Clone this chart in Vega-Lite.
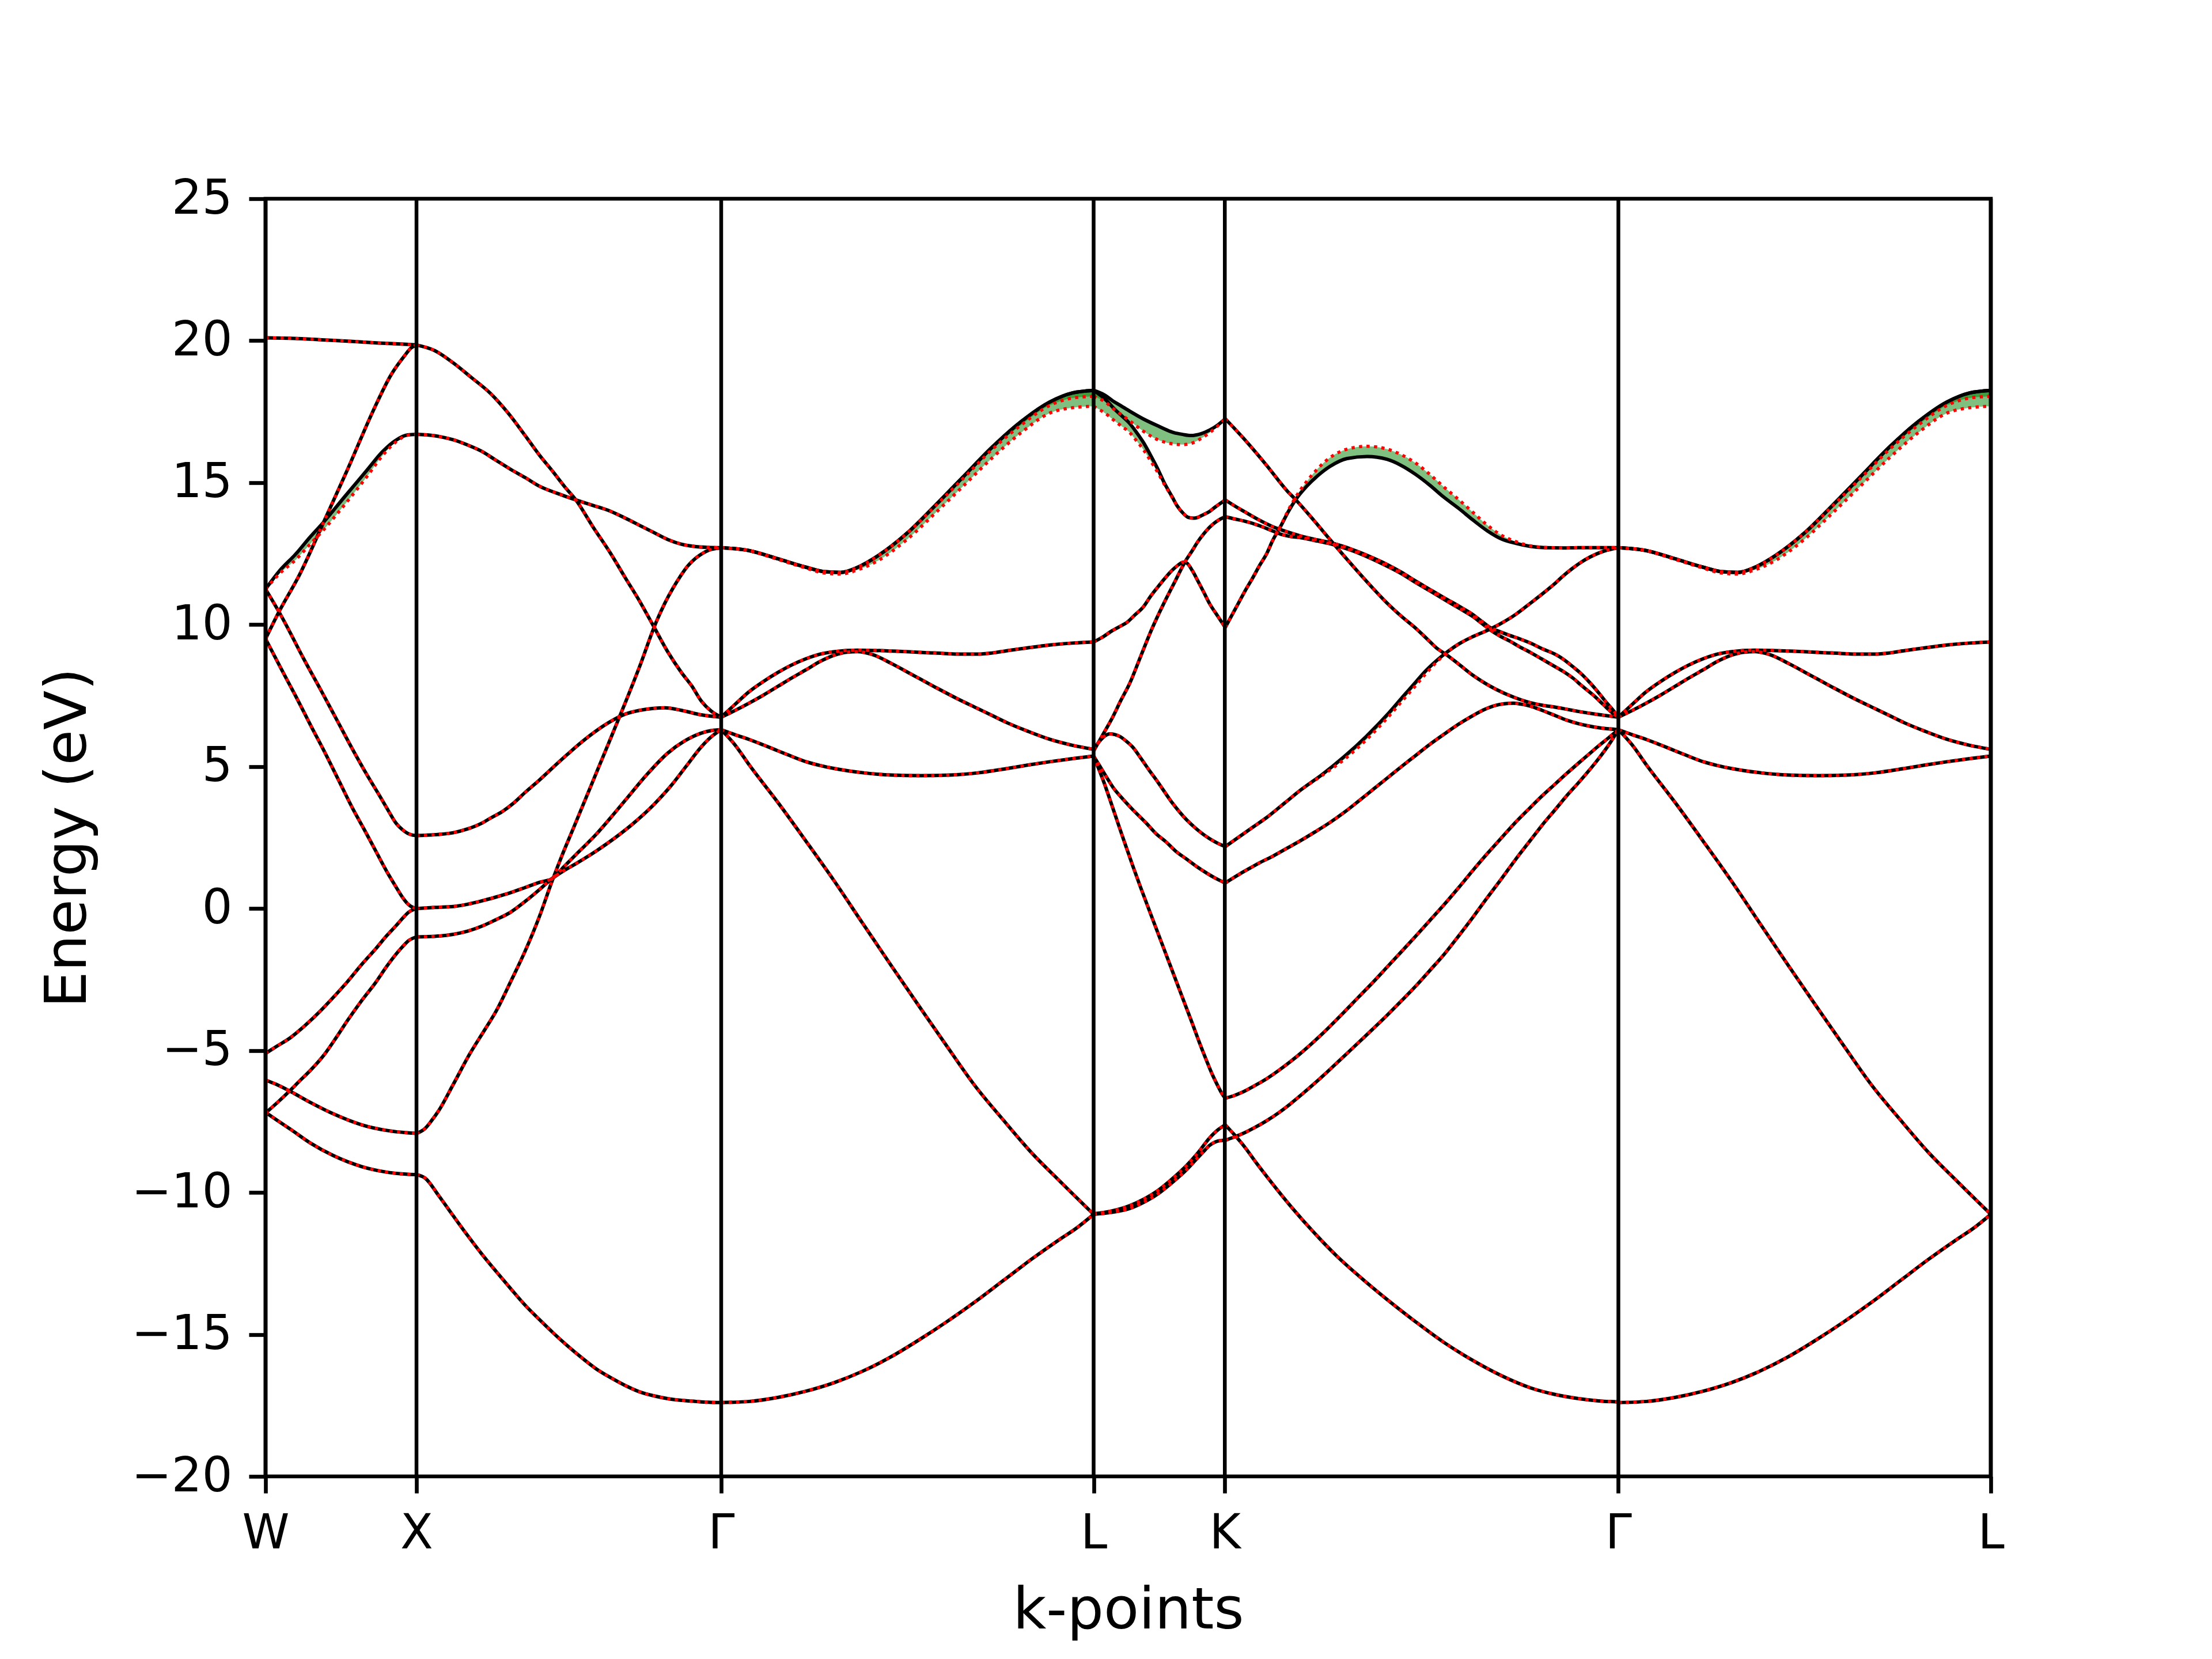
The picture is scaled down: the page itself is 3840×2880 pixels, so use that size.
{
"$schema": "https://vega.github.io/schema/vega-lite/v6.json",
"width": 2995, "height": 2218,
"autosize": {"type": "none"},
"padding": {"left": 461, "top": 345, "right": 384, "bottom": 317},
"background": "white",
"config": {
 "view": {"stroke": "black", "strokeWidth": 6.67},
 "font": "DejaVu Sans",
 "axis": {"domain": false, "grid": false, "tickColor": "black", "tickWidth": 6.67, "tickSize": 29, "labelFont": "DejaVu Sans", "labelFontSize": 83, "labelColor": "black", "labelPadding": 29, "titleFont": "DejaVu Sans", "titleFontSize": 100, "titleFontWeight": "normal", "titleColor": "black", "labelFlush": false, "labelOverlap": false, "labelBound": false},
 "axisX": {"titlePadding": 43},
 "axisY": {"titlePadding": 92}
},
"datasets": {
"kpts": [{"k":0},{"k":107},{"k":323},{"k":587},{"k":680},{"k":959},{"k":1223}],
"bands": [
{"b":"a1","k":0,"e":20.1,"f":20.1},{"b":"a1","k":20,"e":20.08,"f":20.08},{"b":"a1","k":40,"e":20.03,"f":20.03},{"b":"a1","k":60,"e":19.98,"f":19.98},{"b":"a1","k":80,"e":19.92,"f":19.92},{"b":"a1","k":100,"e":19.87,"f":19.87},{"b":"a1","k":107,"e":19.85,"f":19.85},
{"b":"a2","k":0,"e":9.5,"f":9.5},{"b":"a2","k":9.5,"e":10.45,"f":10.45},{"b":"a2","k":24,"e":11.75,"f":11.75},{"b":"a2","k":42,"e":13.7,"f":13.7},{"b":"a2","k":58,"e":15.45,"f":15.45},{"b":"a2","k":76,"e":17.5,"f":17.5},{"b":"a2","k":89,"e":18.8,"f":18.8},{"b":"a2","k":99,"e":19.5,"f":19.5},{"b":"a2","k":103,"e":19.74,"f":19.74},{"b":"a2","k":107,"e":19.85,"f":19.85},
{"b":"a3","k":0,"e":11.25,"f":11.25},{"b":"a3","k":10,"e":11.9,"f":11.8},{"b":"a3","k":21.7,"e":12.5,"f":12.3},{"b":"a3","k":31,"e":13.05,"f":12.8},{"b":"a3","k":41,"e":13.6,"f":13.33},{"b":"a3","k":56,"e":14.5,"f":14.22},{"b":"a3","k":72.4,"e":15.47,"f":15.25},{"b":"a3","k":82.5,"e":16.07,"f":15.93},{"b":"a3","k":92.6,"e":16.5,"f":16.44},{"b":"a3","k":100.7,"e":16.68,"f":16.67},{"b":"a3","k":107,"e":16.7,"f":16.7},
{"b":"a4","k":0,"e":11.25,"f":11.25},{"b":"a4","k":9.5,"e":10.45,"f":10.45},{"b":"a4","k":13.6,"e":10.08,"f":10.08},{"b":"a4","k":27,"e":8.8,"f":8.8},{"b":"a4","k":40,"e":7.62,"f":7.62},{"b":"a4","k":51,"e":6.6,"f":6.6},{"b":"a4","k":62,"e":5.58,"f":5.58},{"b":"a4","k":72,"e":4.7,"f":4.7},{"b":"a4","k":80.5,"e":4.0,"f":4.0},{"b":"a4","k":87,"e":3.45,"f":3.45},{"b":"a4","k":92.6,"e":3.0,"f":3.0},{"b":"a4","k":97,"e":2.78,"f":2.78},{"b":"a4","k":100.7,"e":2.65,"f":2.65},{"b":"a4","k":104,"e":2.59,"f":2.59},{"b":"a4","k":107,"e":2.57,"f":2.57},
{"b":"a5","k":0,"e":9.5,"f":9.5},{"b":"a5","k":11,"e":8.45,"f":8.45},{"b":"a5","k":21.7,"e":7.45,"f":7.45},{"b":"a5","k":32,"e":6.45,"f":6.45},{"b":"a5","k":42,"e":5.5,"f":5.5},{"b":"a5","k":52,"e":4.5,"f":4.5},{"b":"a5","k":62,"e":3.5,"f":3.5},{"b":"a5","k":70,"e":2.78,"f":2.78},{"b":"a5","k":78.4,"e":2.0,"f":2.0},{"b":"a5","k":86,"e":1.3,"f":1.3},{"b":"a5","k":92.6,"e":0.75,"f":0.75},{"b":"a5","k":97,"e":0.4,"f":0.4},{"b":"a5","k":100.7,"e":0.17,"f":0.17},{"b":"a5","k":104,"e":0.05,"f":0.05},{"b":"a5","k":107,"e":0.0,"f":0.0},
{"b":"a6","k":0,"e":-5.1,"f":-5.1},{"b":"a6","k":8,"e":-4.85,"f":-4.85},{"b":"a6","k":17.6,"e":-4.55,"f":-4.55},{"b":"a6","k":28,"e":-4.12,"f":-4.12},{"b":"a6","k":38,"e":-3.65,"f":-3.65},{"b":"a6","k":48,"e":-3.13,"f":-3.13},{"b":"a6","k":58,"e":-2.58,"f":-2.58},{"b":"a6","k":68,"e":-1.98,"f":-1.98},{"b":"a6","k":78.4,"e":-1.4,"f":-1.4},{"b":"a6","k":86,"e":-0.95,"f":-0.95},{"b":"a6","k":92.6,"e":-0.6,"f":-0.6},{"b":"a6","k":97,"e":-0.35,"f":-0.35},{"b":"a6","k":101.7,"e":-0.12,"f":-0.12},{"b":"a6","k":107,"e":0.0,"f":0.0},
{"b":"a7","k":0,"e":-7.2,"f":-7.2},{"b":"a7","k":8,"e":-6.85,"f":-6.85},{"b":"a7","k":17.6,"e":-6.4,"f":-6.4},{"b":"a7","k":24,"e":-6.08,"f":-6.08},{"b":"a7","k":31.8,"e":-5.7,"f":-5.7},{"b":"a7","k":42,"e":-5.12,"f":-5.12},{"b":"a7","k":50,"e":-4.55,"f":-4.55},{"b":"a7","k":58,"e":-3.95,"f":-3.95},{"b":"a7","k":68,"e":-3.25,"f":-3.25},{"b":"a7","k":78.4,"e":-2.58,"f":-2.58},{"b":"a7","k":86,"e":-2.03,"f":-2.03},{"b":"a7","k":92.6,"e":-1.6,"f":-1.6},{"b":"a7","k":97,"e":-1.35,"f":-1.35},{"b":"a7","k":101.7,"e":-1.12,"f":-1.12},{"b":"a7","k":107,"e":-1.0,"f":-1.0},
{"b":"a8","k":0,"e":-6.04,"f":-6.04},{"b":"a8","k":7.5,"e":-6.19,"f":-6.19},{"b":"a8","k":17.6,"e":-6.44,"f":-6.44},{"b":"a8","k":31.8,"e":-6.83,"f":-6.83},{"b":"a8","k":48,"e":-7.23,"f":-7.23},{"b":"a8","k":68.3,"e":-7.62,"f":-7.62},{"b":"a8","k":86.5,"e":-7.82,"f":-7.82},{"b":"a8","k":100.7,"e":-7.9,"f":-7.9},{"b":"a8","k":107,"e":-7.92,"f":-7.92},
{"b":"a9","k":0,"e":-7.18,"f":-7.18},{"b":"a9","k":8,"e":-7.45,"f":-7.45},{"b":"a9","k":17.6,"e":-7.77,"f":-7.77},{"b":"a9","k":31.8,"e":-8.26,"f":-8.26},{"b":"a9","k":48,"e":-8.7,"f":-8.7},{"b":"a9","k":68.3,"e":-9.09,"f":-9.09},{"b":"a9","k":86.5,"e":-9.29,"f":-9.29},{"b":"a9","k":100.7,"e":-9.36,"f":-9.36},{"b":"a9","k":107,"e":-9.37,"f":-9.37},
{"b":"b1","k":107,"e":19.85,"f":19.85},{"b":"b1","k":120,"e":19.65,"f":19.65},{"b":"b1","k":133,"e":19.22,"f":19.22},{"b":"b1","k":146,"e":18.7,"f":18.7},{"b":"b1","k":159.5,"e":18.14,"f":18.14},{"b":"b1","k":172,"e":17.45,"f":17.45},{"b":"b1","k":184,"e":16.66,"f":16.66},{"b":"b1","k":194,"e":15.98,"f":15.98},{"b":"b1","k":204,"e":15.37,"f":15.37},{"b":"b1","k":212,"e":14.86,"f":14.86},{"b":"b1","k":220,"e":14.39,"f":14.39},{"b":"b1","k":232,"e":13.45,"f":13.45},{"b":"b1","k":244.7,"e":12.5,"f":12.5},{"b":"b1","k":255,"e":11.65,"f":11.65},{"b":"b1","k":265,"e":10.84,"f":10.84},{"b":"b1","k":275,"e":9.95,"f":9.95},{"b":"b1","k":285,"e":9.05,"f":9.05},{"b":"b1","k":295,"e":8.3,"f":8.3},{"b":"b1","k":302,"e":7.85,"f":7.85},{"b":"b1","k":309,"e":7.3,"f":7.3},{"b":"b1","k":316,"e":6.95,"f":6.95},{"b":"b1","k":323,"e":6.74,"f":6.74},
{"b":"b2","k":107,"e":16.7,"f":16.7},{"b":"b2","k":120,"e":16.65,"f":16.65},{"b":"b2","k":133,"e":16.51,"f":16.51},{"b":"b2","k":143,"e":16.33,"f":16.33},{"b":"b2","k":153,"e":16.11,"f":16.11},{"b":"b2","k":163,"e":15.8,"f":15.8},{"b":"b2","k":173.7,"e":15.47,"f":15.47},{"b":"b2","k":184,"e":15.18,"f":15.18},{"b":"b2","k":194,"e":14.88,"f":14.88},{"b":"b2","k":207,"e":14.62,"f":14.62},{"b":"b2","k":220,"e":14.39,"f":14.39},{"b":"b2","k":232,"e":14.2,"f":14.2},{"b":"b2","k":244.7,"e":13.99,"f":13.99},{"b":"b2","k":255,"e":13.75,"f":13.75},{"b":"b2","k":265,"e":13.5,"f":13.5},{"b":"b2","k":275,"e":13.25,"f":13.25},{"b":"b2","k":285,"e":13.0,"f":13.0},{"b":"b2","k":295,"e":12.83,"f":12.83},{"b":"b2","k":303,"e":12.76,"f":12.76},{"b":"b2","k":313,"e":12.72,"f":12.72},{"b":"b2","k":323,"e":12.71,"f":12.71},
{"b":"b3","k":107,"e":-7.92,"f":-7.92},{"b":"b3","k":113,"e":-7.75,"f":-7.75},{"b":"b3","k":118,"e":-7.45,"f":-7.45},{"b":"b3","k":123,"e":-7.1,"f":-7.1},{"b":"b3","k":133,"e":-6.2,"f":-6.2},{"b":"b3","k":145,"e":-5.1,"f":-5.1},{"b":"b3","k":155,"e":-4.3,"f":-4.3},{"b":"b3","k":163.6,"e":-3.6,"f":-3.6},{"b":"b3","k":174,"e":-2.55,"f":-2.55},{"b":"b3","k":184,"e":-1.5,"f":-1.5},{"b":"b3","k":194,"e":-0.3,"f":-0.3},{"b":"b3","k":203,"e":0.95,"f":0.95},{"b":"b3","k":210,"e":1.85,"f":1.85},{"b":"b3","k":218,"e":2.8,"f":2.8},{"b":"b3","k":230.5,"e":4.3,"f":4.3},{"b":"b3","k":242.6,"e":5.75,"f":5.75},{"b":"b3","k":255,"e":7.25,"f":7.25},{"b":"b3","k":265,"e":8.5,"f":8.5},{"b":"b3","k":277,"e":10.1,"f":10.1},{"b":"b3","k":283,"e":10.75,"f":10.75},{"b":"b3","k":289,"e":11.3,"f":11.3},{"b":"b3","k":294,"e":11.7,"f":11.7},{"b":"b3","k":299,"e":12.05,"f":12.05},{"b":"b3","k":304,"e":12.3,"f":12.3},{"b":"b3","k":308,"e":12.45,"f":12.45},{"b":"b3","k":316,"e":12.65,"f":12.65},{"b":"b3","k":323,"e":12.7,"f":12.7},
{"b":"b4","k":107,"e":2.57,"f":2.57},{"b":"b4","k":120,"e":2.6,"f":2.6},{"b":"b4","k":133,"e":2.67,"f":2.67},{"b":"b4","k":143,"e":2.8,"f":2.8},{"b":"b4","k":153,"e":3.0,"f":3.0},{"b":"b4","k":160,"e":3.2,"f":3.2},{"b":"b4","k":167.6,"e":3.41,"f":3.41},{"b":"b4","k":176,"e":3.72,"f":3.72},{"b":"b4","k":184,"e":4.09,"f":4.09},{"b":"b4","k":194,"e":4.52,"f":4.52},{"b":"b4","k":204,"e":4.98,"f":4.98},{"b":"b4","k":214,"e":5.43,"f":5.43},{"b":"b4","k":224,"e":5.86,"f":5.86},{"b":"b4","k":235,"e":6.28,"f":6.28},{"b":"b4","k":245,"e":6.6,"f":6.6},{"b":"b4","k":255,"e":6.85,"f":6.85},{"b":"b4","k":265,"e":6.98,"f":6.98},{"b":"b4","k":275,"e":7.05,"f":7.05},{"b":"b4","k":283,"e":7.07,"f":7.07},{"b":"b4","k":295,"e":6.98,"f":6.98},{"b":"b4","k":309,"e":6.82,"f":6.82},{"b":"b4","k":323,"e":6.74,"f":6.74},
{"b":"b5","k":107,"e":0.0,"f":0.0},{"b":"b5","k":120,"e":0.04,"f":0.04},{"b":"b5","k":133,"e":0.07,"f":0.07},{"b":"b5","k":143,"e":0.15,"f":0.15},{"b":"b5","k":153.4,"e":0.27,"f":0.27},{"b":"b5","k":163,"e":0.4,"f":0.4},{"b":"b5","k":173.7,"e":0.56,"f":0.56},{"b":"b5","k":184,"e":0.74,"f":0.74},{"b":"b5","k":194,"e":0.92,"f":0.92},{"b":"b5","k":203,"e":1.05,"f":1.05},{"b":"b5","k":212,"e":1.5,"f":1.5},{"b":"b5","k":220,"e":1.9,"f":1.9},{"b":"b5","k":234.5,"e":2.62,"f":2.62},{"b":"b5","k":245,"e":3.22,"f":3.22},{"b":"b5","k":254.8,"e":3.8,"f":3.8},{"b":"b5","k":270,"e":4.7,"f":4.7},{"b":"b5","k":285,"e":5.47,"f":5.47},{"b":"b5","k":297,"e":5.9,"f":5.9},{"b":"b5","k":309,"e":6.18,"f":6.18},{"b":"b5","k":316,"e":6.27,"f":6.27},{"b":"b5","k":323,"e":6.3,"f":6.3},
{"b":"b6","k":107,"e":-1.0,"f":-1.0},{"b":"b6","k":120,"e":-0.98,"f":-0.98},{"b":"b6","k":133,"e":-0.91,"f":-0.91},{"b":"b6","k":143,"e":-0.8,"f":-0.8},{"b":"b6","k":153.4,"e":-0.62,"f":-0.62},{"b":"b6","k":163,"e":-0.4,"f":-0.4},{"b":"b6","k":173.7,"e":-0.13,"f":-0.13},{"b":"b6","k":184,"e":0.25,"f":0.25},{"b":"b6","k":194,"e":0.66,"f":0.66},{"b":"b6","k":203,"e":1.05,"f":1.05},{"b":"b6","k":212,"e":1.35,"f":1.35},{"b":"b6","k":220,"e":1.58,"f":1.58},{"b":"b6","k":234.5,"e":2.03,"f":2.03},{"b":"b6","k":248,"e":2.5,"f":2.5},{"b":"b6","k":261,"e":3.01,"f":3.01},{"b":"b6","k":275,"e":3.65,"f":3.65},{"b":"b6","k":287,"e":4.3,"f":4.3},{"b":"b6","k":298,"e":5.0,"f":5.0},{"b":"b6","k":309,"e":5.7,"f":5.7},{"b":"b6","k":316,"e":6.05,"f":6.05},{"b":"b6","k":323,"e":6.3,"f":6.3},
{"b":"b7","k":107,"e":-9.37,"f":-9.37},{"b":"b7","k":113,"e":-9.49,"f":-9.49},{"b":"b7","k":123,"e":-10.13,"f":-10.13},{"b":"b7","k":133,"e":-10.82,"f":-10.82},{"b":"b7","k":143,"e":-11.5,"f":-11.5},{"b":"b7","k":153,"e":-12.15,"f":-12.15},{"b":"b7","k":163.6,"e":-12.79,"f":-12.79},{"b":"b7","k":174,"e":-13.4,"f":-13.4},{"b":"b7","k":184,"e":-13.97,"f":-13.97},{"b":"b7","k":194,"e":-14.47,"f":-14.47},{"b":"b7","k":204,"e":-14.95,"f":-14.95},{"b":"b7","k":214,"e":-15.4,"f":-15.4},{"b":"b7","k":224.6,"e":-15.84,"f":-15.84},{"b":"b7","k":234,"e":-16.2,"f":-16.2},{"b":"b7","k":244.9,"e":-16.53,"f":-16.53},{"b":"b7","k":255,"e":-16.8,"f":-16.8},{"b":"b7","k":265,"e":-17.02,"f":-17.02},{"b":"b7","k":275,"e":-17.16,"f":-17.16},{"b":"b7","k":285,"e":-17.26,"f":-17.26},{"b":"b7","k":295,"e":-17.32,"f":-17.32},{"b":"b7","k":305,"e":-17.36,"f":-17.36},{"b":"b7","k":314,"e":-17.39,"f":-17.39},{"b":"b7","k":323,"e":-17.4,"f":-17.4},
{"b":"c1","k":323,"e":12.71,"f":12.71},{"b":"c1","k":342.6,"e":12.61,"f":12.61},{"b":"c1","k":363,"e":12.32,"f":12.32},{"b":"c1","k":383.2,"e":12.02,"f":12.02},{"b":"c1","k":395.4,"e":11.87,"f":11.87},{"b":"c1","k":407.6,"e":11.84,"f":11.84},{"b":"c1","k":419.8,"e":12.02,"f":12.02},{"b":"c1","k":434,"e":12.42,"f":12.42},{"b":"c1","k":454.3,"e":13.2,"f":13.2},{"b":"c1","k":474.6,"e":14.19,"f":14.17},{"b":"c1","k":495,"e":15.23,"f":15.17},{"b":"c1","k":515.3,"e":16.26,"f":16.18},{"b":"c1","k":535.6,"e":17.15,"f":17.03},{"b":"c1","k":555.9,"e":17.84,"f":17.72},{"b":"c1","k":572,"e":18.16,"f":17.98},{"b":"c1","k":587,"e":18.25,"f":18.04},
{"b":"c2","k":323,"e":12.71,"f":12.71},{"b":"c2","k":342.6,"e":12.61,"f":12.6},{"b":"c2","k":363,"e":12.32,"f":12.3},{"b":"c2","k":383.2,"e":12.02,"f":11.99},{"b":"c2","k":395.4,"e":11.87,"f":11.82},{"b":"c2","k":407.6,"e":11.84,"f":11.78},{"b":"c2","k":419.8,"e":12.02,"f":11.93},{"b":"c2","k":434,"e":12.42,"f":12.25},{"b":"c2","k":454.3,"e":13.2,"f":12.98},{"b":"c2","k":474.6,"e":14.19,"f":13.92},{"b":"c2","k":495,"e":15.23,"f":14.9},{"b":"c2","k":515.3,"e":16.26,"f":15.88},{"b":"c2","k":535.6,"e":17.15,"f":16.76},{"b":"c2","k":555.9,"e":17.84,"f":17.45},{"b":"c2","k":572,"e":18.16,"f":17.64},{"b":"c2","k":587,"e":18.25,"f":17.69},
{"b":"c3","k":323,"e":6.74,"f":6.74},{"b":"c3","k":333,"e":7.2,"f":7.2},{"b":"c3","k":342.6,"e":7.63,"f":7.63},{"b":"c3","k":353,"e":8.0,"f":8.0},{"b":"c3","k":363,"e":8.31,"f":8.31},{"b":"c3","k":373,"e":8.58,"f":8.58},{"b":"c3","k":383.2,"e":8.8,"f":8.8},{"b":"c3","k":393,"e":8.96,"f":8.96},{"b":"c3","k":403.5,"e":9.05,"f":9.05},{"b":"c3","k":419.7,"e":9.1,"f":9.1},{"b":"c3","k":444.1,"e":9.07,"f":9.07},{"b":"c3","k":474.6,"e":9.0,"f":9.0},{"b":"c3","k":495,"e":8.96,"f":8.96},{"b":"c3","k":505,"e":8.96,"f":8.96},{"b":"c3","k":515,"e":9.0,"f":9.0},{"b":"c3","k":525.4,"e":9.08,"f":9.08},{"b":"c3","k":540,"e":9.18,"f":9.18},{"b":"c3","k":555.9,"e":9.28,"f":9.28},{"b":"c3","k":572,"e":9.35,"f":9.35},{"b":"c3","k":587,"e":9.39,"f":9.39},
{"b":"c4","k":323,"e":6.74,"f":6.74},{"b":"c4","k":333,"e":6.98,"f":6.98},{"b":"c4","k":342.6,"e":7.23,"f":7.23},{"b":"c4","k":353,"e":7.52,"f":7.52},{"b":"c4","k":363,"e":7.82,"f":7.82},{"b":"c4","k":373,"e":8.12,"f":8.12},{"b":"c4","k":383.2,"e":8.41,"f":8.41},{"b":"c4","k":393,"e":8.7,"f":8.7},{"b":"c4","k":403.5,"e":8.93,"f":8.93},{"b":"c4","k":412,"e":9.03,"f":9.03},{"b":"c4","k":419.7,"e":9.05,"f":9.05},{"b":"c4","k":430,"e":8.95,"f":8.95},{"b":"c4","k":444.1,"e":8.62,"f":8.62},{"b":"c4","k":459,"e":8.22,"f":8.22},{"b":"c4","k":474.6,"e":7.8,"f":7.8},{"b":"c4","k":490,"e":7.4,"f":7.4},{"b":"c4","k":505,"e":7.04,"f":7.04},{"b":"c4","k":515,"e":6.8,"f":6.8},{"b":"c4","k":525.4,"e":6.55,"f":6.55},{"b":"c4","k":540,"e":6.25,"f":6.25},{"b":"c4","k":555.9,"e":5.96,"f":5.96},{"b":"c4","k":572,"e":5.75,"f":5.75},{"b":"c4","k":587,"e":5.61,"f":5.61},
{"b":"c5","k":323,"e":6.3,"f":6.3},{"b":"c5","k":333,"e":6.12,"f":6.12},{"b":"c5","k":342.6,"e":5.96,"f":5.96},{"b":"c5","k":353,"e":5.76,"f":5.76},{"b":"c5","k":363,"e":5.56,"f":5.56},{"b":"c5","k":373,"e":5.36,"f":5.36},{"b":"c5","k":383.2,"e":5.17,"f":5.17},{"b":"c5","k":393,"e":5.04,"f":5.04},{"b":"c5","k":403.5,"e":4.93,"f":4.93},{"b":"c5","k":424,"e":4.78,"f":4.78},{"b":"c5","k":444,"e":4.7,"f":4.7},{"b":"c5","k":464.5,"e":4.68,"f":4.68},{"b":"c5","k":485,"e":4.7,"f":4.7},{"b":"c5","k":505,"e":4.78,"f":4.78},{"b":"c5","k":525.4,"e":4.93,"f":4.93},{"b":"c5","k":540,"e":5.05,"f":5.05},{"b":"c5","k":555.9,"e":5.17,"f":5.17},{"b":"c5","k":572,"e":5.28,"f":5.28},{"b":"c5","k":587,"e":5.37,"f":5.37},
{"b":"c6","k":323,"e":6.3,"f":6.3},{"b":"c6","k":333,"e":5.75,"f":5.75},{"b":"c6","k":343,"e":5.05,"f":5.05},{"b":"c6","k":363,"e":3.75,"f":3.75},{"b":"c6","k":383,"e":2.38,"f":2.38},{"b":"c6","k":403,"e":0.98,"f":0.98},{"b":"c6","k":423,"e":-0.5,"f":-0.5},{"b":"c6","k":443,"e":-1.97,"f":-1.97},{"b":"c6","k":463,"e":-3.42,"f":-3.42},{"b":"c6","k":483,"e":-4.85,"f":-4.85},{"b":"c6","k":503,"e":-6.25,"f":-6.25},{"b":"c6","k":523,"e":-7.45,"f":-7.45},{"b":"c6","k":543,"e":-8.6,"f":-8.6},{"b":"c6","k":563,"e":-9.6,"f":-9.6},{"b":"c6","k":587,"e":-10.77,"f":-10.77},
{"b":"c7","k":323,"e":-17.4,"f":-17.4},{"b":"c7","k":343,"e":-17.36,"f":-17.36},{"b":"c7","k":363,"e":-17.22,"f":-17.22},{"b":"c7","k":383,"e":-17.0,"f":-17.0},{"b":"c7","k":403,"e":-16.7,"f":-16.7},{"b":"c7","k":423,"e":-16.3,"f":-16.3},{"b":"c7","k":443,"e":-15.8,"f":-15.8},{"b":"c7","k":463,"e":-15.2,"f":-15.2},{"b":"c7","k":483,"e":-14.55,"f":-14.55},{"b":"c7","k":503,"e":-13.85,"f":-13.85},{"b":"c7","k":523,"e":-13.1,"f":-13.1},{"b":"c7","k":543,"e":-12.35,"f":-12.35},{"b":"c7","k":563,"e":-11.65,"f":-11.65},{"b":"c7","k":575,"e":-11.25,"f":-11.25},{"b":"c7","k":587,"e":-10.77,"f":-10.77},
{"b":"d1","k":587,"e":18.25,"f":18.04},{"b":"d1","k":595,"e":18.08,"f":17.85},{"b":"d1","k":600.6,"e":17.88,"f":17.62},{"b":"d1","k":606,"e":17.72,"f":17.42},{"b":"d1","k":612.5,"e":17.52,"f":17.18},{"b":"d1","k":622,"e":17.25,"f":16.82},{"b":"d1","k":632.6,"e":17.0,"f":16.51},{"b":"d1","k":644,"e":16.76,"f":16.36},{"b":"d1","k":650,"e":16.7,"f":16.34},{"b":"d1","k":656,"e":16.66,"f":16.38},{"b":"d1","k":663,"e":16.72,"f":16.55},{"b":"d1","k":669.2,"e":16.85,"f":16.76},{"b":"d1","k":675,"e":17.03,"f":17.0},{"b":"d1","k":680.3,"e":17.25,"f":17.25},
{"b":"d2","k":587,"e":18.25,"f":17.69},{"b":"d2","k":595,"e":17.95,"f":17.45},{"b":"d2","k":602.6,"e":17.55,"f":17.15},{"b":"d2","k":607,"e":17.35,"f":16.98},{"b":"d2","k":612.3,"e":17.1,"f":16.78},{"b":"d2","k":617,"e":16.8,"f":16.5},{"b":"d2","k":622.5,"e":16.4,"f":16.15},{"b":"d2","k":627,"e":16.0,"f":15.8},{"b":"d2","k":632.6,"e":15.47,"f":15.35},{"b":"d2","k":637,"e":15.0,"f":14.95},{"b":"d2","k":642.8,"e":14.49,"f":14.47},{"b":"d2","k":646,"e":14.2,"f":14.2},{"b":"d2","k":650.9,"e":13.9,"f":13.9},{"b":"d2","k":654,"e":13.78,"f":13.78},{"b":"d2","k":658,"e":13.75,"f":13.75},{"b":"d2","k":661,"e":13.78,"f":13.78},{"b":"d2","k":665.1,"e":13.88,"f":13.88},{"b":"d2","k":669,"e":13.98,"f":13.98},{"b":"d2","k":673.2,"e":14.14,"f":14.14},{"b":"d2","k":680.3,"e":14.39,"f":14.39},
{"b":"d3","k":587,"e":9.39,"f":9.39},{"b":"d3","k":593,"e":9.55,"f":9.55},{"b":"d3","k":600,"e":9.78,"f":9.78},{"b":"d3","k":605,"e":9.92,"f":9.92},{"b":"d3","k":610.7,"e":10.08,"f":10.08},{"b":"d3","k":616,"e":10.33,"f":10.33},{"b":"d3","k":622.5,"e":10.64,"f":10.64},{"b":"d3","k":627,"e":10.97,"f":10.97},{"b":"d3","k":632.6,"e":11.33,"f":11.33},{"b":"d3","k":637,"e":11.6,"f":11.6},{"b":"d3","k":642.8,"e":11.92,"f":11.92},{"b":"d3","k":647,"e":12.1,"f":12.1},{"b":"d3","k":650.5,"e":12.2,"f":12.2},{"b":"d3","k":653,"e":12.17,"f":12.17},{"b":"d3","k":657,"e":11.9,"f":11.9},{"b":"d3","k":661,"e":11.53,"f":11.53},{"b":"d3","k":665,"e":11.15,"f":11.15},{"b":"d3","k":669.2,"e":10.74,"f":10.74},{"b":"d3","k":675,"e":10.3,"f":10.3},{"b":"d3","k":680.3,"e":9.9,"f":9.9},
{"b":"d4","k":587,"e":5.55,"f":5.55},{"b":"d4","k":591,"e":5.9,"f":5.9},{"b":"d4","k":595,"e":6.25,"f":6.25},{"b":"d4","k":600.6,"e":6.75,"f":6.75},{"b":"d4","k":606,"e":7.3,"f":7.3},{"b":"d4","k":612.5,"e":7.92,"f":7.92},{"b":"d4","k":620.5,"e":8.9,"f":8.9},{"b":"d4","k":628.5,"e":9.87,"f":9.87},{"b":"d4","k":636.7,"e":10.74,"f":10.74},{"b":"d4","k":644.8,"e":11.53,"f":11.53},{"b":"d4","k":651.9,"e":12.22,"f":12.22},{"b":"d4","k":657,"e":12.61,"f":12.61},{"b":"d4","k":661,"e":12.93,"f":12.93},{"b":"d4","k":665.1,"e":13.2,"f":13.2},{"b":"d4","k":669,"e":13.42,"f":13.42},{"b":"d4","k":673.2,"e":13.6,"f":13.6},{"b":"d4","k":677,"e":13.72,"f":13.72},{"b":"d4","k":680.3,"e":13.8,"f":13.8},
{"b":"d5","k":587,"e":5.61,"f":5.61},{"b":"d5","k":591,"e":5.88,"f":5.88},{"b":"d5","k":595,"e":6.08,"f":6.08},{"b":"d5","k":598.5,"e":6.15,"f":6.15},{"b":"d5","k":602,"e":6.13,"f":6.13},{"b":"d5","k":606,"e":6.05,"f":6.05},{"b":"d5","k":610,"e":5.9,"f":5.9},{"b":"d5","k":614.8,"e":5.68,"f":5.68},{"b":"d5","k":620.4,"e":5.3,"f":5.3},{"b":"d5","k":626,"e":4.9,"f":4.9},{"b":"d5","k":632.6,"e":4.45,"f":4.45},{"b":"d5","k":642.8,"e":3.72,"f":3.72},{"b":"d5","k":653,"e":3.12,"f":3.12},{"b":"d5","k":660,"e":2.8,"f":2.8},{"b":"d5","k":665.1,"e":2.6,"f":2.6},{"b":"d5","k":673,"e":2.35,"f":2.35},{"b":"d5","k":680.3,"e":2.18,"f":2.18},
{"b":"d6","k":587,"e":5.37,"f":5.37},{"b":"d6","k":591,"e":5.05,"f":5.05},{"b":"d6","k":596.5,"e":4.6,"f":4.6},{"b":"d6","k":601,"e":4.25,"f":4.25},{"b":"d6","k":606.6,"e":3.92,"f":3.92},{"b":"d6","k":614,"e":3.52,"f":3.52},{"b":"d6","k":624.5,"e":3.0,"f":3.0},{"b":"d6","k":631,"e":2.65,"f":2.65},{"b":"d6","k":638.7,"e":2.33,"f":2.33},{"b":"d6","k":645,"e":2.03,"f":2.03},{"b":"d6","k":652.9,"e":1.74,"f":1.74},{"b":"d6","k":660,"e":1.48,"f":1.48},{"b":"d6","k":667.1,"e":1.25,"f":1.25},{"b":"d6","k":674,"e":1.05,"f":1.05},{"b":"d6","k":680.3,"e":0.9,"f":0.9},
{"b":"d7","k":587,"e":5.37,"f":5.37},{"b":"d7","k":590,"e":5.0,"f":5.0},{"b":"d7","k":594.5,"e":4.42,"f":4.42},{"b":"d7","k":598.5,"e":3.85,"f":3.85},{"b":"d7","k":602.6,"e":3.25,"f":3.25},{"b":"d7","k":606.5,"e":2.68,"f":2.68},{"b":"d7","k":610.7,"e":2.08,"f":2.08},{"b":"d7","k":615,"e":1.47,"f":1.47},{"b":"d7","k":620.5,"e":0.72,"f":0.72},{"b":"d7","k":628.5,"e":-0.33,"f":-0.33},{"b":"d7","k":636.7,"e":-1.4,"f":-1.4},{"b":"d7","k":646.8,"e":-2.72,"f":-2.72},{"b":"d7","k":652,"e":-3.4,"f":-3.4},{"b":"d7","k":657,"e":-4.05,"f":-4.05},{"b":"d7","k":662,"e":-4.72,"f":-4.72},{"b":"d7","k":667,"e":-5.35,"f":-5.35},{"b":"d7","k":671,"e":-5.83,"f":-5.83},{"b":"d7","k":675,"e":-6.24,"f":-6.24},{"b":"d7","k":678,"e":-6.52,"f":-6.52},{"b":"d7","k":680.3,"e":-6.68,"f":-6.68},
{"b":"d8","k":587,"e":-10.75,"f":-10.75},{"b":"d8","k":600,"e":-10.65,"f":-10.65},{"b":"d8","k":612.3,"e":-10.47,"f":-10.47},{"b":"d8","k":622,"e":-10.25,"f":-10.25},{"b":"d8","k":632.6,"e":-9.93,"f":-9.93},{"b":"d8","k":642,"e":-9.55,"f":-9.55},{"b":"d8","k":652.9,"e":-9.05,"f":-9.05},{"b":"d8","k":661,"e":-8.6,"f":-8.6},{"b":"d8","k":669.2,"e":-8.08,"f":-8.08},{"b":"d8","k":675,"e":-7.8,"f":-7.8},{"b":"d8","k":680.3,"e":-7.62,"f":-7.62},
{"b":"d9","k":587,"e":-10.77,"f":-10.77},{"b":"d9","k":600,"e":-10.7,"f":-10.7},{"b":"d9","k":612.3,"e":-10.57,"f":-10.57},{"b":"d9","k":622,"e":-10.36,"f":-10.36},{"b":"d9","k":632.6,"e":-10.05,"f":-10.05},{"b":"d9","k":642,"e":-9.68,"f":-9.68},{"b":"d9","k":652.9,"e":-9.2,"f":-9.2},{"b":"d9","k":660,"e":-8.82,"f":-8.82},{"b":"d9","k":665.1,"e":-8.55,"f":-8.55},{"b":"d9","k":669,"e":-8.35,"f":-8.35},{"b":"d9","k":673.2,"e":-8.22,"f":-8.22},{"b":"d9","k":677,"e":-8.17,"f":-8.17},{"b":"d9","k":680.3,"e":-8.16,"f":-8.16},
{"b":"e1","k":680.3,"e":17.25,"f":17.25},{"b":"e1","k":693.5,"e":16.55,"f":16.55},{"b":"e1","k":709.8,"e":15.6,"f":15.6},{"b":"e1","k":724,"e":14.72,"f":14.72},{"b":"e1","k":731,"e":14.36,"f":14.36},{"b":"e1","k":744,"e":13.62,"f":13.62},{"b":"e1","k":754.5,"e":13.0,"f":13.0},{"b":"e1","k":764.5,"e":12.42,"f":12.42},{"b":"e1","k":774.8,"e":11.84,"f":11.84},{"b":"e1","k":785,"e":11.28,"f":11.28},{"b":"e1","k":795,"e":10.76,"f":10.76},{"b":"e1","k":805,"e":10.3,"f":10.3},{"b":"e1","k":815.4,"e":9.87,"f":9.87},{"b":"e1","k":823.5,"e":9.49,"f":9.49},{"b":"e1","k":830,"e":9.18,"f":9.18},{"b":"e1","k":837.7,"e":8.92,"f":8.92},{"b":"e1","k":846,"e":8.6,"f":8.6},{"b":"e1","k":856,"e":8.21,"f":8.21},{"b":"e1","k":864,"e":7.95,"f":7.95},{"b":"e1","k":872.3,"e":7.72,"f":7.72},{"b":"e1","k":884.5,"e":7.45,"f":7.45},{"b":"e1","k":896.6,"e":7.25,"f":7.25},{"b":"e1","k":905,"e":7.16,"f":7.16},{"b":"e1","k":914.5,"e":7.09,"f":7.09},{"b":"e1","k":930.8,"e":6.94,"f":6.94},{"b":"e1","k":945,"e":6.83,"f":6.83},{"b":"e1","k":959,"e":6.74,"f":6.74},
{"b":"e2","k":680.3,"e":14.39,"f":14.39},{"b":"e2","k":687,"e":14.18,"f":14.18},{"b":"e2","k":693.5,"e":13.99,"f":13.99},{"b":"e2","k":703.7,"e":13.7,"f":13.7},{"b":"e2","k":713.9,"e":13.45,"f":13.45},{"b":"e2","k":724,"e":13.27,"f":13.27},{"b":"e2","k":734,"e":13.12,"f":13.12},{"b":"e2","k":744,"e":13.0,"f":13.0},{"b":"e2","k":754.5,"e":12.89,"f":12.89},{"b":"e2","k":764.5,"e":12.75,"f":12.75},{"b":"e2","k":774.8,"e":12.56,"f":12.56},{"b":"e2","k":785,"e":12.35,"f":12.35},{"b":"e2","k":795,"e":12.12,"f":12.12},{"b":"e2","k":805,"e":11.85,"f":11.85},{"b":"e2","k":815.4,"e":11.53,"f":11.53},{"b":"e2","k":825,"e":11.25,"f":11.25},{"b":"e2","k":835.7,"e":10.94,"f":10.94},{"b":"e2","k":846,"e":10.65,"f":10.65},{"b":"e2","k":856,"e":10.35,"f":10.35},{"b":"e2","k":862,"e":10.12,"f":10.12},{"b":"e2","k":868,"e":9.9,"f":9.9},{"b":"e2","k":875,"e":9.75,"f":9.75},{"b":"e2","k":882,"e":9.62,"f":9.62},{"b":"e2","k":889,"e":9.5,"f":9.5},{"b":"e2","k":896.6,"e":9.35,"f":9.35},{"b":"e2","k":905,"e":9.15,"f":9.15},{"b":"e2","k":914.5,"e":8.95,"f":8.95},{"b":"e2","k":920,"e":8.78,"f":8.78},{"b":"e2","k":926.7,"e":8.52,"f":8.52},{"b":"e2","k":932,"e":8.3,"f":8.3},{"b":"e2","k":938.9,"e":7.95,"f":7.95},{"b":"e2","k":945,"e":7.6,"f":7.6},{"b":"e2","k":951,"e":7.23,"f":7.23},{"b":"e2","k":955,"e":7.0,"f":7.0},{"b":"e2","k":959,"e":6.74,"f":6.74},
{"b":"e3","k":680.3,"e":13.8,"f":13.8},{"b":"e3","k":687,"e":13.72,"f":13.72},{"b":"e3","k":693.5,"e":13.65,"f":13.65},{"b":"e3","k":703.7,"e":13.5,"f":13.5},{"b":"e3","k":713.9,"e":13.3,"f":13.3},{"b":"e3","k":720,"e":13.18,"f":13.18},{"b":"e3","k":727,"e":13.1,"f":13.1},{"b":"e3","k":734,"e":13.06,"f":13.06},{"b":"e3","k":744,"e":12.96,"f":12.96},{"b":"e3","k":754.5,"e":12.85,"f":12.85},{"b":"e3","k":764.5,"e":12.7,"f":12.7},{"b":"e3","k":774.8,"e":12.52,"f":12.52},{"b":"e3","k":785,"e":12.3,"f":12.3},{"b":"e3","k":795,"e":12.06,"f":12.06},{"b":"e3","k":805,"e":11.8,"f":11.8},{"b":"e3","k":815.4,"e":11.48,"f":11.48},{"b":"e3","k":825,"e":11.2,"f":11.2},{"b":"e3","k":835.7,"e":10.88,"f":10.88},{"b":"e3","k":846,"e":10.58,"f":10.58},{"b":"e3","k":856,"e":10.28,"f":10.28},{"b":"e3","k":862,"e":10.05,"f":10.05},{"b":"e3","k":868,"e":9.82,"f":9.82},{"b":"e3","k":875,"e":9.6,"f":9.6},{"b":"e3","k":882,"e":9.42,"f":9.42},{"b":"e3","k":889,"e":9.22,"f":9.22},{"b":"e3","k":896.6,"e":9.02,"f":9.02},{"b":"e3","k":905,"e":8.78,"f":8.78},{"b":"e3","k":914.5,"e":8.51,"f":8.51},{"b":"e3","k":920,"e":8.35,"f":8.35},{"b":"e3","k":926.7,"e":8.12,"f":8.12},{"b":"e3","k":933,"e":7.85,"f":7.85},{"b":"e3","k":940.9,"e":7.53,"f":7.53},{"b":"e3","k":948,"e":7.2,"f":7.2},{"b":"e3","k":955,"e":6.88,"f":6.88},{"b":"e3","k":959,"e":6.74,"f":6.74},
{"b":"e4","k":680.3,"e":9.9,"f":9.9},{"b":"e4","k":685,"e":10.33,"f":10.33},{"b":"e4","k":689.5,"e":10.74,"f":10.74},{"b":"e4","k":694.5,"e":11.2,"f":11.2},{"b":"e4","k":699.6,"e":11.63,"f":11.63},{"b":"e4","k":704.5,"e":12.07,"f":12.07},{"b":"e4","k":709.8,"e":12.51,"f":12.51},{"b":"e4","k":713.9,"e":12.96,"f":12.96},{"b":"e4","k":720,"e":13.5,"f":13.52},{"b":"e4","k":725,"e":13.98,"f":14.03},{"b":"e4","k":730.1,"e":14.39,"f":14.48},{"b":"e4","k":738.2,"e":14.88,"f":15.05},{"b":"e4","k":746,"e":15.25,"f":15.5},{"b":"e4","k":754.5,"e":15.57,"f":15.88},{"b":"e4","k":766.7,"e":15.85,"f":16.18},{"b":"e4","k":780.9,"e":15.92,"f":16.28},{"b":"e4","k":795.1,"e":15.82,"f":16.18},{"b":"e4","k":805.3,"e":15.6,"f":15.98},{"b":"e4","k":815,"e":15.3,"f":15.7},{"b":"e4","k":825.6,"e":14.9,"f":15.28},{"b":"e4","k":835,"e":14.5,"f":14.86},{"b":"e4","k":845.9,"e":14.09,"f":14.4},{"b":"e4","k":856,"e":13.68,"f":13.95},{"b":"e4","k":866.2,"e":13.3,"f":13.5},{"b":"e4","k":876,"e":13.02,"f":13.15},{"b":"e4","k":886.5,"e":12.86,"f":12.92},{"b":"e4","k":896,"e":12.76,"f":12.78},{"b":"e4","k":906.8,"e":12.71,"f":12.72},{"b":"e4","k":920,"e":12.7,"f":12.7},{"b":"e4","k":930.8,"e":12.71,"f":12.71},{"b":"e4","k":945,"e":12.71,"f":12.71},{"b":"e4","k":959,"e":12.71,"f":12.71},
{"b":"e5","k":680.3,"e":2.18,"f":2.18},{"b":"e5","k":690,"e":2.52,"f":2.52},{"b":"e5","k":700,"e":2.87,"f":2.87},{"b":"e5","k":709.8,"e":3.21,"f":3.21},{"b":"e5","k":722,"e":3.7,"f":3.7},{"b":"e5","k":734.2,"e":4.19,"f":4.19},{"b":"e5","k":749,"e":4.72,"f":4.69},{"b":"e5","k":764.6,"e":5.35,"f":5.25},{"b":"e5","k":780,"e":6.05,"f":5.93},{"b":"e5","k":795,"e":6.82,"f":6.7},{"b":"e5","k":805,"e":7.39,"f":7.27},{"b":"e5","k":815.4,"e":7.98,"f":7.86},{"b":"e5","k":823,"e":8.4,"f":8.3},{"b":"e5","k":831.7,"e":8.8,"f":8.76},{"b":"e5","k":838,"e":9.05,"f":9.05},{"b":"e5","k":845.9,"e":9.32,"f":9.32},{"b":"e5","k":856,"e":9.58,"f":9.58},{"b":"e5","k":866.2,"e":9.8,"f":9.8},{"b":"e5","k":875,"e":10.02,"f":10.02},{"b":"e5","k":886.5,"e":10.37,"f":10.37},{"b":"e5","k":896,"e":10.73,"f":10.73},{"b":"e5","k":906.8,"e":11.15,"f":11.15},{"b":"e5","k":914.5,"e":11.47,"f":11.47},{"b":"e5","k":920,"e":11.72,"f":11.72},{"b":"e5","k":926.7,"e":11.99,"f":11.99},{"b":"e5","k":932,"e":12.18,"f":12.18},{"b":"e5","k":938.9,"e":12.38,"f":12.38},{"b":"e5","k":945,"e":12.52,"f":12.52},{"b":"e5","k":951,"e":12.62,"f":12.62},{"b":"e5","k":959,"e":12.71,"f":12.71},
{"b":"e6","k":680.3,"e":0.9,"f":0.9},{"b":"e6","k":690,"e":1.2,"f":1.2},{"b":"e6","k":697,"e":1.4,"f":1.4},{"b":"e6","k":705,"e":1.62,"f":1.62},{"b":"e6","k":713.9,"e":1.84,"f":1.84},{"b":"e6","k":724,"e":2.12,"f":2.12},{"b":"e6","k":734,"e":2.4,"f":2.4},{"b":"e6","k":744,"e":2.7,"f":2.7},{"b":"e6","k":754.5,"e":3.03,"f":3.03},{"b":"e6","k":765,"e":3.4,"f":3.4},{"b":"e6","k":775,"e":3.79,"f":3.79},{"b":"e6","k":785,"e":4.19,"f":4.19},{"b":"e6","k":795,"e":4.59,"f":4.59},{"b":"e6","k":805,"e":4.99,"f":4.99},{"b":"e6","k":815,"e":5.38,"f":5.38},{"b":"e6","k":825,"e":5.77,"f":5.77},{"b":"e6","k":835.7,"e":6.15,"f":6.15},{"b":"e6","k":846,"e":6.5,"f":6.5},{"b":"e6","k":856,"e":6.8,"f":6.8},{"b":"e6","k":864,"e":7.01,"f":7.01},{"b":"e6","k":872.3,"e":7.16,"f":7.16},{"b":"e6","k":878,"e":7.21,"f":7.21},{"b":"e6","k":884.5,"e":7.23,"f":7.23},{"b":"e6","k":890,"e":7.2,"f":7.2},{"b":"e6","k":896.6,"e":7.13,"f":7.13},{"b":"e6","k":905,"e":6.98,"f":6.98},{"b":"e6","k":914.5,"e":6.79,"f":6.79},{"b":"e6","k":922,"e":6.64,"f":6.64},{"b":"e6","k":930.8,"e":6.51,"f":6.51},{"b":"e6","k":938,"e":6.43,"f":6.43},{"b":"e6","k":945,"e":6.37,"f":6.37},{"b":"e6","k":952,"e":6.33,"f":6.33},{"b":"e6","k":959,"e":6.3,"f":6.3},
{"b":"e7","k":680.3,"e":-6.68,"f":-6.68},{"b":"e7","k":686,"e":-6.6,"f":-6.6},{"b":"e7","k":691.5,"e":-6.49,"f":-6.49},{"b":"e7","k":700,"e":-6.27,"f":-6.27},{"b":"e7","k":709.8,"e":-5.99,"f":-5.99},{"b":"e7","k":718,"e":-5.71,"f":-5.71},{"b":"e7","k":726,"e":-5.41,"f":-5.41},{"b":"e7","k":733,"e":-5.13,"f":-5.13},{"b":"e7","k":740,"e":-4.83,"f":-4.83},{"b":"e7","k":747,"e":-4.51,"f":-4.51},{"b":"e7","k":754.5,"e":-4.15,"f":-4.15},{"b":"e7","k":764.5,"e":-3.65,"f":-3.65},{"b":"e7","k":774.8,"e":-3.12,"f":-3.12},{"b":"e7","k":785,"e":-2.6,"f":-2.6},{"b":"e7","k":795.1,"e":-2.06,"f":-2.06},{"b":"e7","k":805,"e":-1.53,"f":-1.53},{"b":"e7","k":815.4,"e":-0.97,"f":-0.97},{"b":"e7","k":825,"e":-0.44,"f":-0.44},{"b":"e7","k":835.7,"e":0.15,"f":0.15},{"b":"e7","k":846,"e":0.75,"f":0.75},{"b":"e7","k":856,"e":1.35,"f":1.35},{"b":"e7","k":866,"e":1.93,"f":1.93},{"b":"e7","k":876.3,"e":2.5,"f":2.5},{"b":"e7","k":886,"e":3.03,"f":3.03},{"b":"e7","k":896.6,"e":3.56,"f":3.56},{"b":"e7","k":905,"e":3.97,"f":3.97},{"b":"e7","k":914.5,"e":4.4,"f":4.4},{"b":"e7","k":922,"e":4.74,"f":4.74},{"b":"e7","k":930.7,"e":5.12,"f":5.12},{"b":"e7","k":938,"e":5.43,"f":5.43},{"b":"e7","k":945,"e":5.73,"f":5.73},{"b":"e7","k":952,"e":6.01,"f":6.01},{"b":"e7","k":959,"e":6.3,"f":6.3},
{"b":"e8","k":680.3,"e":-8.16,"f":-8.16},{"b":"e8","k":686,"e":-8.06,"f":-8.06},{"b":"e8","k":693.5,"e":-7.91,"f":-7.91},{"b":"e8","k":701,"e":-7.72,"f":-7.72},{"b":"e8","k":709.8,"e":-7.47,"f":-7.47},{"b":"e8","k":718,"e":-7.2,"f":-7.2},{"b":"e8","k":726,"e":-6.9,"f":-6.9},{"b":"e8","k":735,"e":-6.53,"f":-6.53},{"b":"e8","k":744.3,"e":-6.13,"f":-6.13},{"b":"e8","k":751,"e":-5.83,"f":-5.83},{"b":"e8","k":758.5,"e":-5.48,"f":-5.48},{"b":"e8","k":766.7,"e":-5.1,"f":-5.1},{"b":"e8","k":775,"e":-4.71,"f":-4.71},{"b":"e8","k":785,"e":-4.24,"f":-4.24},{"b":"e8","k":795,"e":-3.76,"f":-3.76},{"b":"e8","k":805,"e":-3.26,"f":-3.26},{"b":"e8","k":815.4,"e":-2.73,"f":-2.73},{"b":"e8","k":825,"e":-2.2,"f":-2.2},{"b":"e8","k":835.7,"e":-1.6,"f":-1.6},{"b":"e8","k":846,"e":-0.95,"f":-0.95},{"b":"e8","k":856,"e":-0.3,"f":-0.3},{"b":"e8","k":866,"e":0.38,"f":0.38},{"b":"e8","k":876.3,"e":1.06,"f":1.06},{"b":"e8","k":886,"e":1.72,"f":1.72},{"b":"e8","k":896.6,"e":2.4,"f":2.4},{"b":"e8","k":905,"e":2.94,"f":2.94},{"b":"e8","k":914.5,"e":3.5,"f":3.5},{"b":"e8","k":922,"e":3.95,"f":3.95},{"b":"e8","k":930.7,"e":4.43,"f":4.43},{"b":"e8","k":938,"e":4.85,"f":4.85},{"b":"e8","k":945,"e":5.28,"f":5.28},{"b":"e8","k":952,"e":5.75,"f":5.75},{"b":"e8","k":959,"e":6.3,"f":6.3},
{"b":"e9","k":680.3,"e":-7.62,"f":-7.62},{"b":"e9","k":687,"e":-7.98,"f":-7.98},{"b":"e9","k":693.5,"e":-8.36,"f":-8.36},{"b":"e9","k":703,"e":-9.0,"f":-9.0},{"b":"e9","k":713.9,"e":-9.7,"f":-9.7},{"b":"e9","k":728,"e":-10.56,"f":-10.56},{"b":"e9","k":744.3,"e":-11.47,"f":-11.47},{"b":"e9","k":759,"e":-12.22,"f":-12.22},{"b":"e9","k":774.8,"e":-12.93,"f":-12.93},{"b":"e9","k":795,"e":-13.77,"f":-13.77},{"b":"e9","k":815.4,"e":-14.56,"f":-14.56},{"b":"e9","k":835,"e":-15.27,"f":-15.27},{"b":"e9","k":856,"e":-15.92,"f":-15.92},{"b":"e9","k":876,"e":-16.45,"f":-16.45},{"b":"e9","k":896.6,"e":-16.88,"f":-16.88},{"b":"e9","k":914.5,"e":-17.12,"f":-17.12},{"b":"e9","k":930.8,"e":-17.26,"f":-17.26},{"b":"e9","k":945,"e":-17.34,"f":-17.34},{"b":"e9","k":959,"e":-17.38,"f":-17.38},
{"b":"g1","k":959,"e":12.71,"f":12.71},{"b":"g1","k":978.6,"e":12.61,"f":12.61},{"b":"g1","k":999,"e":12.32,"f":12.32},{"b":"g1","k":1019.2,"e":12.02,"f":12.02},{"b":"g1","k":1031.4,"e":11.87,"f":11.87},{"b":"g1","k":1043.6,"e":11.84,"f":11.84},{"b":"g1","k":1055.8,"e":12.02,"f":12.02},{"b":"g1","k":1070,"e":12.42,"f":12.42},{"b":"g1","k":1090.3,"e":13.2,"f":13.2},{"b":"g1","k":1110.6,"e":14.19,"f":14.17},{"b":"g1","k":1131,"e":15.23,"f":15.17},{"b":"g1","k":1151.3,"e":16.26,"f":16.18},{"b":"g1","k":1171.6,"e":17.15,"f":17.03},{"b":"g1","k":1191.9,"e":17.84,"f":17.72},{"b":"g1","k":1208,"e":18.16,"f":17.98},{"b":"g1","k":1223,"e":18.25,"f":18.04},
{"b":"g2","k":959,"e":12.71,"f":12.71},{"b":"g2","k":978.6,"e":12.61,"f":12.6},{"b":"g2","k":999,"e":12.32,"f":12.3},{"b":"g2","k":1019.2,"e":12.02,"f":11.99},{"b":"g2","k":1031.4,"e":11.87,"f":11.82},{"b":"g2","k":1043.6,"e":11.84,"f":11.78},{"b":"g2","k":1055.8,"e":12.02,"f":11.93},{"b":"g2","k":1070,"e":12.42,"f":12.25},{"b":"g2","k":1090.3,"e":13.2,"f":12.98},{"b":"g2","k":1110.6,"e":14.19,"f":13.92},{"b":"g2","k":1131,"e":15.23,"f":14.9},{"b":"g2","k":1151.3,"e":16.26,"f":15.88},{"b":"g2","k":1171.6,"e":17.15,"f":16.76},{"b":"g2","k":1191.9,"e":17.84,"f":17.45},{"b":"g2","k":1208,"e":18.16,"f":17.64},{"b":"g2","k":1223,"e":18.25,"f":17.69},
{"b":"g3","k":959,"e":6.74,"f":6.74},{"b":"g3","k":969,"e":7.2,"f":7.2},{"b":"g3","k":978.6,"e":7.63,"f":7.63},{"b":"g3","k":989,"e":8.0,"f":8.0},{"b":"g3","k":999,"e":8.31,"f":8.31},{"b":"g3","k":1009,"e":8.58,"f":8.58},{"b":"g3","k":1019.2,"e":8.8,"f":8.8},{"b":"g3","k":1029,"e":8.96,"f":8.96},{"b":"g3","k":1039.5,"e":9.05,"f":9.05},{"b":"g3","k":1055.7,"e":9.1,"f":9.1},{"b":"g3","k":1080.1,"e":9.07,"f":9.07},{"b":"g3","k":1110.6,"e":9.0,"f":9.0},{"b":"g3","k":1131,"e":8.96,"f":8.96},{"b":"g3","k":1141,"e":8.96,"f":8.96},{"b":"g3","k":1151,"e":9.0,"f":9.0},{"b":"g3","k":1161.4,"e":9.08,"f":9.08},{"b":"g3","k":1176,"e":9.18,"f":9.18},{"b":"g3","k":1191.9,"e":9.28,"f":9.28},{"b":"g3","k":1208,"e":9.35,"f":9.35},{"b":"g3","k":1223,"e":9.39,"f":9.39},
{"b":"g4","k":959,"e":6.74,"f":6.74},{"b":"g4","k":969,"e":6.98,"f":6.98},{"b":"g4","k":978.6,"e":7.23,"f":7.23},{"b":"g4","k":989,"e":7.52,"f":7.52},{"b":"g4","k":999,"e":7.82,"f":7.82},{"b":"g4","k":1009,"e":8.12,"f":8.12},{"b":"g4","k":1019.2,"e":8.41,"f":8.41},{"b":"g4","k":1029,"e":8.7,"f":8.7},{"b":"g4","k":1039.5,"e":8.93,"f":8.93},{"b":"g4","k":1048,"e":9.03,"f":9.03},{"b":"g4","k":1055.7,"e":9.05,"f":9.05},{"b":"g4","k":1066,"e":8.95,"f":8.95},{"b":"g4","k":1080.1,"e":8.62,"f":8.62},{"b":"g4","k":1095,"e":8.22,"f":8.22},{"b":"g4","k":1110.6,"e":7.8,"f":7.8},{"b":"g4","k":1126,"e":7.4,"f":7.4},{"b":"g4","k":1141,"e":7.04,"f":7.04},{"b":"g4","k":1151,"e":6.8,"f":6.8},{"b":"g4","k":1161.4,"e":6.55,"f":6.55},{"b":"g4","k":1176,"e":6.25,"f":6.25},{"b":"g4","k":1191.9,"e":5.96,"f":5.96},{"b":"g4","k":1208,"e":5.75,"f":5.75},{"b":"g4","k":1223,"e":5.61,"f":5.61},
{"b":"g5","k":959,"e":6.3,"f":6.3},{"b":"g5","k":969,"e":6.12,"f":6.12},{"b":"g5","k":978.6,"e":5.96,"f":5.96},{"b":"g5","k":989,"e":5.76,"f":5.76},{"b":"g5","k":999,"e":5.56,"f":5.56},{"b":"g5","k":1009,"e":5.36,"f":5.36},{"b":"g5","k":1019.2,"e":5.17,"f":5.17},{"b":"g5","k":1029,"e":5.04,"f":5.04},{"b":"g5","k":1039.5,"e":4.93,"f":4.93},{"b":"g5","k":1060,"e":4.78,"f":4.78},{"b":"g5","k":1080,"e":4.7,"f":4.7},{"b":"g5","k":1100.5,"e":4.68,"f":4.68},{"b":"g5","k":1121,"e":4.7,"f":4.7},{"b":"g5","k":1141,"e":4.78,"f":4.78},{"b":"g5","k":1161.4,"e":4.93,"f":4.93},{"b":"g5","k":1176,"e":5.05,"f":5.05},{"b":"g5","k":1191.9,"e":5.17,"f":5.17},{"b":"g5","k":1208,"e":5.28,"f":5.28},{"b":"g5","k":1223,"e":5.37,"f":5.37},
{"b":"g6","k":959,"e":6.3,"f":6.3},{"b":"g6","k":969,"e":5.75,"f":5.75},{"b":"g6","k":979,"e":5.05,"f":5.05},{"b":"g6","k":999,"e":3.75,"f":3.75},{"b":"g6","k":1019,"e":2.38,"f":2.38},{"b":"g6","k":1039,"e":0.98,"f":0.98},{"b":"g6","k":1059,"e":-0.5,"f":-0.5},{"b":"g6","k":1079,"e":-1.97,"f":-1.97},{"b":"g6","k":1099,"e":-3.42,"f":-3.42},{"b":"g6","k":1119,"e":-4.85,"f":-4.85},{"b":"g6","k":1139,"e":-6.25,"f":-6.25},{"b":"g6","k":1159,"e":-7.45,"f":-7.45},{"b":"g6","k":1179,"e":-8.6,"f":-8.6},{"b":"g6","k":1199,"e":-9.6,"f":-9.6},{"b":"g6","k":1223,"e":-10.77,"f":-10.77},
{"b":"g7","k":959,"e":-17.4,"f":-17.4},{"b":"g7","k":979,"e":-17.36,"f":-17.36},{"b":"g7","k":999,"e":-17.22,"f":-17.22},{"b":"g7","k":1019,"e":-17.0,"f":-17.0},{"b":"g7","k":1039,"e":-16.7,"f":-16.7},{"b":"g7","k":1059,"e":-16.3,"f":-16.3},{"b":"g7","k":1079,"e":-15.8,"f":-15.8},{"b":"g7","k":1099,"e":-15.2,"f":-15.2},{"b":"g7","k":1119,"e":-14.55,"f":-14.55},{"b":"g7","k":1139,"e":-13.85,"f":-13.85},{"b":"g7","k":1159,"e":-13.1,"f":-13.1},{"b":"g7","k":1179,"e":-12.35,"f":-12.35},{"b":"g7","k":1199,"e":-11.65,"f":-11.65},{"b":"g7","k":1211,"e":-11.25,"f":-11.25},{"b":"g7","k":1223,"e":-10.77,"f":-10.77}
]
},
"encoding": {
 "x": {"field": "k", "type": "quantitative", "scale": {"domain": [0, 1223], "nice": false, "zero": false},
  "axis": {"values": [0, 107, 323, 587, 680, 959, 1223], "title": "k-points",
   "labelExpr": "datum.value == 0 ? 'W' : datum.value == 107 ? 'X' : (datum.value == 323 || datum.value == 959) ? 'Γ' : (datum.value == 587 || datum.value == 1223) ? 'L' : 'K'"}}
},
"layer": [
 {"data": {"name": "bands"},
  "mark": {"type": "area", "interpolate": "monotone", "color": "#008000", "opacity": 0.5},
  "encoding": {
   "y": {"field": "e", "type": "quantitative", "scale": {"domain": [-20, 25], "nice": false, "zero": false},
    "axis": {"values": [-20, -15, -10, -5, 0, 5, 10, 15, 20, 25], "title": "Energy (eV)"}},
   "y2": {"field": "f"},
   "detail": {"field": "b", "type": "nominal"}}},
 {"data": {"name": "bands"},
  "mark": {"type": "line", "interpolate": "monotone", "color": "black", "strokeWidth": 6},
  "encoding": {
   "y": {"field": "e", "type": "quantitative", "title": "Energy (eV)"},
   "detail": {"field": "b", "type": "nominal"}}},
 {"data": {"name": "bands"},
  "mark": {"type": "line", "interpolate": "monotone", "color": "red", "strokeWidth": 5.5, "strokeDash": [5.5, 7.5], "strokeCap": "butt"},
  "encoding": {
   "y": {"field": "f", "type": "quantitative", "title": "Energy (eV)"},
   "detail": {"field": "b", "type": "nominal"}}},
 {"data": {"name": "kpts"},
  "mark": {"type": "rule", "color": "black", "strokeWidth": 6.5},
  "encoding": {}}
]
}
